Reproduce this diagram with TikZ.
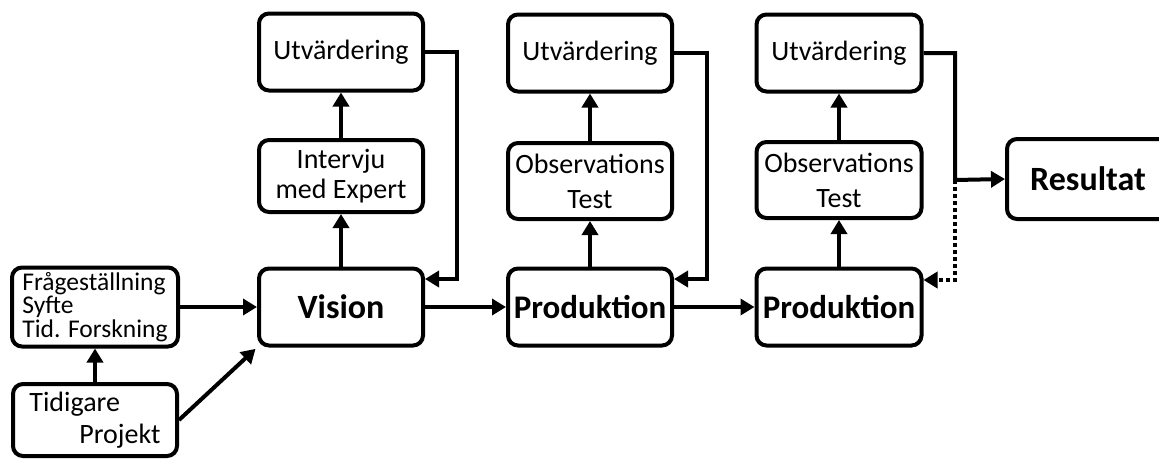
\documentclass[tikz,border=0pt]{standalone}
\usepackage{fontspec}
\setmainfont{Carlito}
\usetikzlibrary{arrows.meta,calc}
\begin{document}
\begin{tikzpicture}[x=1pt,y=-1pt,
  box/.style={draw,line width=4pt,rounded corners=10pt,inner sep=0pt,align=center,
    font=\fontsize{28}{30}\selectfont},
  bbox/.style={box,font=\fontsize{34}{36}\selectfont\bfseries},
  arr/.style={line width=4pt,-{Triangle[length=14pt,width=16pt]}},
  dotarr/.style={arr,dash pattern=on 4pt off 3pt}]
\useasboundingbox (0,0) rectangle (1159,459);
\begin{scope}
\clip (0,0) rectangle (1159,459);
% left column
\node[box,minimum width=166pt,minimum height=79pt,align=left,
  font=\fontsize{25.5}{23.5}\selectfont] (fq) at (95,307) {Frågeställning\\Syfte\\Tid. Forskning};
\node[box,minimum width=164pt,minimum height=72pt,align=left,
  font=\fontsize{28}{32}\selectfont] (tid) at (95,420) {Tidigare\\\hspace*{50pt}Projekt};
% vision column
\node[bbox,minimum width=164pt,minimum height=77pt] (vis) at (341,307) {Vision};
\node[box,minimum width=164pt,minimum height=72pt,font=\fontsize{28}{30}\selectfont] (int) at (341,176) {Intervju\\med Expert};
\node[box,minimum width=164pt,minimum height=77pt] (ut1) at (341,52) {Utvärdering};
% production 1
\node[bbox,minimum width=164pt,minimum height=77pt,font=\fontsize{33}{35}\selectfont\bfseries] (p1) at (590,307) {Produktion};
\node[box,minimum width=164pt,minimum height=76pt,font=\fontsize{28}{35}\selectfont] (o1) at (590,181) {Observations\\Test};
\node[box,minimum width=164pt,minimum height=77pt] (ut2) at (590,53) {Utvärdering};
% production 2
\node[bbox,minimum width=165pt,minimum height=77pt,font=\fontsize{33}{35}\selectfont\bfseries] (p2) at (839,307) {Produktion};
\node[box,minimum width=165pt,minimum height=76pt,font=\fontsize{28}{35}\selectfont] (o2) at (839,180) {Observations\\Test};
\node[box,minimum width=165pt,minimum height=77pt] (ut3) at (839,53) {Utvärdering};
% result
\node[bbox,minimum width=190pt,minimum height=80pt] (res) at (1102,179) {};
\node[font=\fontsize{34}{36}\selectfont\bfseries] (restxt) at (1088,179) {Resultat};
% connectors
\draw[arr] (tid.north) -- (fq.south);
\draw[arr] (fq.east) -- (vis.west);
\draw[arr,shorten >=2pt] (tid.east) -- (vis.south west);
\draw[arr] (vis.north) -- (int.south);
\draw[arr] (int.north) -- (ut1.south);
\coordinate (f1) at (457,279);
\draw[arr] (ut1.east) -| (f1) -- (f1 -| vis.east);
\draw[arr] (vis.east) -- (p1.west);
\draw[arr] (p1.north) -- (o1.south);
\draw[arr] (o1.north) -- (ut2.south);
\coordinate (f2) at (707,279);
\draw[arr] (ut2.east) -| (f2) -- (f2 -| p1.east);
\draw[arr] (p1.east) -- (p2.west);
\draw[arr] (p2.north) -- (o2.south);
\draw[arr] (o2.north) -- (ut3.south);
\coordinate (j) at (955,180);
\coordinate (f3) at (955,280);
\draw[arr] (ut3.east) -| (j) -- (res.west);
\draw[dotarr] (j) -- (f3) -- (f3 -| p2.east);
\end{scope}
\end{tikzpicture}
\end{document}
